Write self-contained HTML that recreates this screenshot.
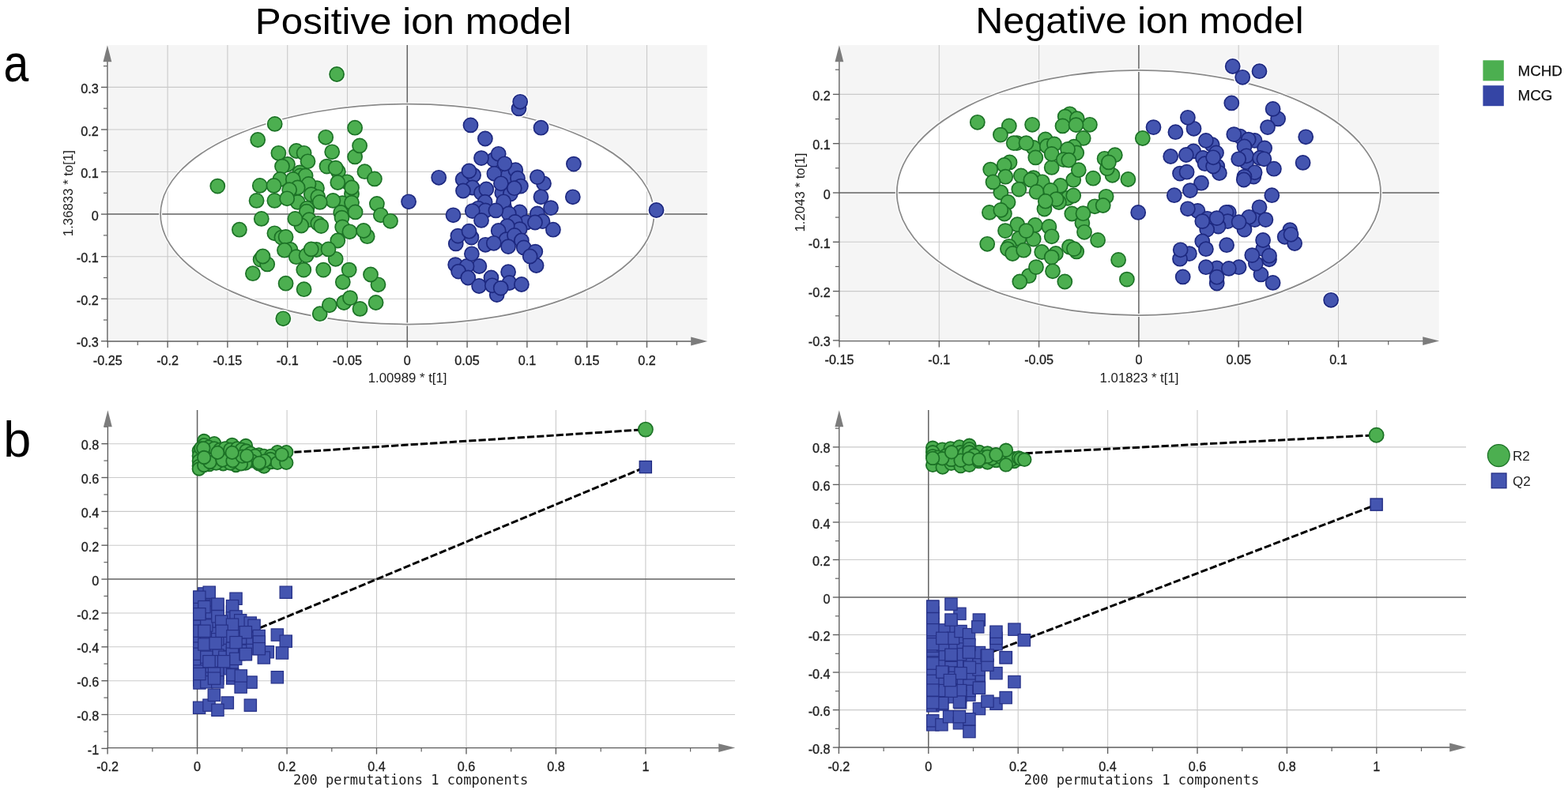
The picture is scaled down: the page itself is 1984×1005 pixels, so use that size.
<!DOCTYPE html>
<html lang="en">
<head>
<meta charset="utf-8">
<title>OPLS-DA score plots and permutation tests</title>
<style>
html,body{margin:0;padding:0;background:#fff;}
body{width:1984px;height:1005px;overflow:hidden;}
svg{display:block;}
</style>
</head>
<body>
<svg width="1984" height="1005" viewBox="0 0 1984 1005" font-family="'Liberation Sans',Arial,sans-serif">
<rect x="137.2" y="57.0" width="757.6" height="373.5" fill="#f5f5f5"/>
<ellipse cx="515.3" cy="271.1" rx="312.2" ry="139.4" fill="#ffffff"/>
<g stroke="#cacaca" stroke-width="1.1"><line x1="212.1" y1="57.0" x2="212.1" y2="432.0"/><line x1="287.9" y1="57.0" x2="287.9" y2="432.0"/><line x1="363.7" y1="57.0" x2="363.7" y2="432.0"/><line x1="439.5" y1="57.0" x2="439.5" y2="432.0"/><line x1="591.1" y1="57.0" x2="591.1" y2="432.0"/><line x1="666.9" y1="57.0" x2="666.9" y2="432.0"/><line x1="742.7" y1="57.0" x2="742.7" y2="432.0"/><line x1="818.5" y1="57.0" x2="818.5" y2="432.0"/><line x1="135.9" y1="378.2" x2="895" y2="378.2"/><line x1="135.9" y1="324.7" x2="895" y2="324.7"/><line x1="135.9" y1="217.5" x2="895" y2="217.5"/><line x1="135.9" y1="164.0" x2="895" y2="164.0"/><line x1="135.9" y1="110.4" x2="895" y2="110.4"/></g>
<g stroke="#626262" stroke-width="1.5"><line x1="515.3" y1="57.0" x2="515.3" y2="432.0"/><line x1="135.9" y1="271.1" x2="895" y2="271.1"/></g>
<ellipse cx="515.3" cy="271.1" rx="312.2" ry="139.4" fill="none" stroke="#ffffff" stroke-width="4"/>
<ellipse cx="515.3" cy="271.1" rx="312.2" ry="139.4" fill="none" stroke="#8a8a8a" stroke-width="1.75"/>
<rect x="1063.2" y="57.0" width="757.6" height="373.1" fill="#f5f5f5"/>
<ellipse cx="1440.9" cy="244.0" rx="306.1" ry="155.0" fill="#ffffff"/>
<g stroke="#cacaca" stroke-width="1.1"><line x1="1188.3" y1="57.0" x2="1188.3" y2="431.6"/><line x1="1314.6" y1="57.0" x2="1314.6" y2="431.6"/><line x1="1567.2" y1="57.0" x2="1567.2" y2="431.6"/><line x1="1693.5" y1="57.0" x2="1693.5" y2="431.6"/><line x1="1061.9" y1="368.6" x2="1821" y2="368.6"/><line x1="1061.9" y1="306.3" x2="1821" y2="306.3"/><line x1="1061.9" y1="181.7" x2="1821" y2="181.7"/><line x1="1061.9" y1="119.4" x2="1821" y2="119.4"/></g>
<g stroke="#626262" stroke-width="1.5"><line x1="1440.9" y1="57.0" x2="1440.9" y2="431.6"/><line x1="1061.9" y1="244.0" x2="1821" y2="244.0"/></g>
<ellipse cx="1440.9" cy="244.0" rx="306.1" ry="155.0" fill="none" stroke="#ffffff" stroke-width="4"/>
<ellipse cx="1440.9" cy="244.0" rx="306.1" ry="155.0" fill="none" stroke="#8a8a8a" stroke-width="1.75"/>
<g stroke="#cacaca" stroke-width="1.1"><line x1="363.1" y1="519" x2="363.1" y2="946.6"/><line x1="476.5" y1="519" x2="476.5" y2="946.6"/><line x1="590.0" y1="519" x2="590.0" y2="946.6"/><line x1="703.4" y1="519" x2="703.4" y2="946.6"/><line x1="816.9" y1="519" x2="816.9" y2="946.6"/><line x1="136.4" y1="904.5" x2="930" y2="904.5"/><line x1="136.4" y1="861.7" x2="930" y2="861.7"/><line x1="136.4" y1="818.8" x2="930" y2="818.8"/><line x1="136.4" y1="776.0" x2="930" y2="776.0"/><line x1="136.4" y1="690.2" x2="930" y2="690.2"/><line x1="136.4" y1="647.4" x2="930" y2="647.4"/><line x1="136.4" y1="604.5" x2="930" y2="604.5"/><line x1="136.4" y1="561.7" x2="930" y2="561.7"/></g>
<g stroke="#626262" stroke-width="1.5"><line x1="249.6" y1="519" x2="249.6" y2="946.6"/><line x1="136.4" y1="733.1" x2="930" y2="733.1"/></g>
<g stroke="#cacaca" stroke-width="1.1"><line x1="1288.2" y1="519" x2="1288.2" y2="946.0"/><line x1="1401.6" y1="519" x2="1401.6" y2="946.0"/><line x1="1515.0" y1="519" x2="1515.0" y2="946.0"/><line x1="1628.4" y1="519" x2="1628.4" y2="946.0"/><line x1="1741.8" y1="519" x2="1741.8" y2="946.0"/><line x1="1061.8" y1="898.6" x2="1855" y2="898.6"/><line x1="1061.8" y1="851.0" x2="1855" y2="851.0"/><line x1="1061.8" y1="803.5" x2="1855" y2="803.5"/><line x1="1061.8" y1="708.5" x2="1855" y2="708.5"/><line x1="1061.8" y1="661.0" x2="1855" y2="661.0"/><line x1="1061.8" y1="613.4" x2="1855" y2="613.4"/><line x1="1061.8" y1="565.9" x2="1855" y2="565.9"/></g>
<g stroke="#626262" stroke-width="1.5"><line x1="1174.8" y1="519" x2="1174.8" y2="946.0"/><line x1="1061.8" y1="756.0" x2="1855" y2="756.0"/></g>
<g stroke="#000" stroke-width="3.0" stroke-dasharray="9.2 3.1" fill="none"><path d="M249.6,580.3 L817,543.6"/><path d="M249.6,827.9 L817,591.1"/><path d="M1174.8,580 L1742,550.7"/><path d="M1174.8,856 L1742,638.6"/></g>
<g fill="#ffffff"><circle cx="426.1" cy="94.0" r="11.3"/><circle cx="347.7" cy="156.9" r="11.3"/><circle cx="326.2" cy="177.0" r="11.3"/><circle cx="404.7" cy="397.2" r="11.3"/><circle cx="358.3" cy="403.3" r="11.3"/><circle cx="656.5" cy="137.4" r="11.3"/><circle cx="658.2" cy="128.8" r="11.3"/><circle cx="684.5" cy="161.7" r="11.3"/><circle cx="830.5" cy="266.0" r="11.3"/></g>
<g fill="#ffffff"><circle cx="1559.7" cy="84.0" r="11.3"/><circle cx="1572.2" cy="97.8" r="11.3"/><circle cx="1593.5" cy="90.2" r="11.3"/><circle cx="1610.6" cy="357.9" r="11.3"/><circle cx="1684.1" cy="379.8" r="11.3"/></g>
<g fill="#4caf50" stroke="#1c7226" stroke-width="1.7"><circle cx="426.1" cy="94.0" r="9.05"/><circle cx="347.7" cy="156.9" r="9.05"/><circle cx="326.2" cy="177.0" r="9.05"/><circle cx="449.1" cy="161.7" r="9.05"/><circle cx="412.2" cy="173.8" r="9.05"/><circle cx="449.1" cy="198.4" r="9.05"/><circle cx="455.1" cy="184.4" r="9.05"/><circle cx="420.2" cy="192.3" r="9.05"/><circle cx="352.4" cy="193.8" r="9.05"/><circle cx="375.0" cy="191.0" r="9.05"/><circle cx="384.6" cy="193.8" r="9.05"/><circle cx="389.5" cy="204.3" r="9.05"/><circle cx="364.0" cy="208.0" r="9.05"/><circle cx="357.0" cy="210.6" r="9.05"/><circle cx="413.5" cy="210.6" r="9.05"/><circle cx="427.9" cy="217.2" r="9.05"/><circle cx="424.7" cy="212.6" r="9.05"/><circle cx="461.4" cy="217.2" r="9.05"/><circle cx="473.9" cy="226.4" r="9.05"/><circle cx="379.3" cy="218.5" r="9.05"/><circle cx="380.0" cy="222.4" r="9.05"/><circle cx="386.6" cy="222.4" r="9.05"/><circle cx="354.4" cy="227.0" r="9.05"/><circle cx="370.8" cy="227.0" r="9.05"/><circle cx="439.1" cy="230.3" r="9.05"/><circle cx="427.3" cy="231.0" r="9.05"/><circle cx="445.0" cy="245.4" r="9.05"/><circle cx="445.0" cy="237.5" r="9.05"/><circle cx="328.8" cy="234.9" r="9.05"/><circle cx="346.5" cy="234.9" r="9.05"/><circle cx="401.0" cy="238.2" r="9.05"/><circle cx="390.5" cy="232.9" r="9.05"/><circle cx="376.7" cy="237.5" r="9.05"/><circle cx="366.2" cy="240.2" r="9.05"/><circle cx="275.3" cy="235.6" r="9.05"/><circle cx="393.8" cy="246.1" r="9.05"/><circle cx="402.3" cy="249.3" r="9.05"/><circle cx="433.2" cy="257.2" r="9.05"/><circle cx="421.4" cy="253.9" r="9.05"/><circle cx="404.7" cy="255.9" r="9.05"/><circle cx="445.0" cy="256.6" r="9.05"/><circle cx="324.6" cy="253.9" r="9.05"/><circle cx="347.4" cy="253.9" r="9.05"/><circle cx="376.7" cy="255.9" r="9.05"/><circle cx="363.2" cy="251.3" r="9.05"/><circle cx="388.5" cy="263.8" r="9.05"/><circle cx="387.9" cy="267.7" r="9.05"/><circle cx="449.6" cy="268.4" r="9.05"/><circle cx="476.9" cy="257.9" r="9.05"/><circle cx="481.8" cy="272.3" r="9.05"/><circle cx="494.0" cy="279.8" r="9.05"/><circle cx="431.2" cy="269.0" r="9.05"/><circle cx="432.5" cy="275.6" r="9.05"/><circle cx="330.8" cy="276.9" r="9.05"/><circle cx="391.2" cy="278.2" r="9.05"/><circle cx="381.3" cy="285.5" r="9.05"/><circle cx="373.4" cy="276.9" r="9.05"/><circle cx="402.3" cy="282.8" r="9.05"/><circle cx="406.3" cy="286.1" r="9.05"/><circle cx="433.2" cy="287.4" r="9.05"/><circle cx="442.4" cy="293.3" r="9.05"/><circle cx="464.7" cy="299.2" r="9.05"/><circle cx="460.1" cy="292.0" r="9.05"/><circle cx="302.9" cy="290.7" r="9.05"/><circle cx="347.4" cy="295.3" r="9.05"/><circle cx="356.4" cy="300.6" r="9.05"/><circle cx="361.6" cy="299.9" r="9.05"/><circle cx="427.3" cy="304.5" r="9.05"/><circle cx="367.5" cy="316.0" r="9.05"/><circle cx="360.0" cy="316.7" r="9.05"/><circle cx="374.8" cy="325.2" r="9.05"/><circle cx="387.6" cy="323.2" r="9.05"/><circle cx="400.4" cy="316.0" r="9.05"/><circle cx="393.8" cy="315.4" r="9.05"/><circle cx="424.7" cy="327.8" r="9.05"/><circle cx="415.5" cy="315.4" r="9.05"/><circle cx="329.6" cy="328.6" r="9.05"/><circle cx="338.2" cy="334.4" r="9.05"/><circle cx="332.5" cy="324.5" r="9.05"/><circle cx="319.9" cy="346.2" r="9.05"/><circle cx="384.3" cy="341.6" r="9.05"/><circle cx="409.2" cy="341.6" r="9.05"/><circle cx="433.8" cy="357.0" r="9.05"/><circle cx="441.7" cy="341.6" r="9.05"/><circle cx="478.5" cy="360.3" r="9.05"/><circle cx="469.0" cy="347.5" r="9.05"/><circle cx="361.6" cy="358.7" r="9.05"/><circle cx="384.6" cy="366.2" r="9.05"/><circle cx="404.7" cy="397.2" r="9.05"/><circle cx="416.8" cy="386.3" r="9.05"/><circle cx="435.2" cy="383.0" r="9.05"/><circle cx="443.0" cy="377.1" r="9.05"/><circle cx="455.5" cy="390.9" r="9.05"/><circle cx="475.6" cy="383.0" r="9.05"/><circle cx="358.3" cy="403.3" r="9.05"/></g>
<g fill="#4455b0" stroke="#1e2980" stroke-width="1.7"><circle cx="656.5" cy="137.4" r="9.05"/><circle cx="658.2" cy="128.8" r="9.05"/><circle cx="595.5" cy="158.4" r="9.05"/><circle cx="684.5" cy="161.7" r="9.05"/><circle cx="613.9" cy="175.5" r="9.05"/><circle cx="624.8" cy="202.1" r="9.05"/><circle cx="609.0" cy="200.1" r="9.05"/><circle cx="630.7" cy="194.8" r="9.05"/><circle cx="641.8" cy="223.1" r="9.05"/><circle cx="652.3" cy="215.2" r="9.05"/><circle cx="638.5" cy="207.3" r="9.05"/><circle cx="725.9" cy="207.6" r="9.05"/><circle cx="585.6" cy="227.0" r="9.05"/><circle cx="599.1" cy="221.8" r="9.05"/><circle cx="593.5" cy="216.5" r="9.05"/><circle cx="555.2" cy="224.8" r="9.05"/><circle cx="625.4" cy="219.8" r="9.05"/><circle cx="655.0" cy="225.7" r="9.05"/><circle cx="688.0" cy="232.3" r="9.05"/><circle cx="679.9" cy="224.1" r="9.05"/><circle cx="658.9" cy="235.6" r="9.05"/><circle cx="635.3" cy="244.1" r="9.05"/><circle cx="645.8" cy="245.4" r="9.05"/><circle cx="633.9" cy="232.3" r="9.05"/><circle cx="650.8" cy="238.2" r="9.05"/><circle cx="597.8" cy="237.5" r="9.05"/><circle cx="586.0" cy="241.5" r="9.05"/><circle cx="609.0" cy="244.1" r="9.05"/><circle cx="615.3" cy="239.5" r="9.05"/><circle cx="684.5" cy="249.3" r="9.05"/><circle cx="724.8" cy="249.3" r="9.05"/><circle cx="517.1" cy="255.3" r="9.05"/><circle cx="637.9" cy="261.2" r="9.05"/><circle cx="637.2" cy="255.3" r="9.05"/><circle cx="613.6" cy="255.7" r="9.05"/><circle cx="697.0" cy="263.1" r="9.05"/><circle cx="605.1" cy="263.8" r="9.05"/><circle cx="614.2" cy="266.4" r="9.05"/><circle cx="597.8" cy="267.1" r="9.05"/><circle cx="657.6" cy="268.4" r="9.05"/><circle cx="643.8" cy="270.4" r="9.05"/><circle cx="627.4" cy="266.4" r="9.05"/><circle cx="679.9" cy="270.4" r="9.05"/><circle cx="573.5" cy="272.3" r="9.05"/><circle cx="609.0" cy="278.9" r="9.05"/><circle cx="666.1" cy="281.5" r="9.05"/><circle cx="686.5" cy="280.2" r="9.05"/><circle cx="677.0" cy="281.5" r="9.05"/><circle cx="651.7" cy="280.9" r="9.05"/><circle cx="657.6" cy="290.1" r="9.05"/><circle cx="641.8" cy="286.1" r="9.05"/><circle cx="699.9" cy="290.7" r="9.05"/><circle cx="630.7" cy="292.0" r="9.05"/><circle cx="576.8" cy="308.4" r="9.05"/><circle cx="596.5" cy="300.6" r="9.05"/><circle cx="579.4" cy="298.6" r="9.05"/><circle cx="593.5" cy="292.7" r="9.05"/><circle cx="640.5" cy="303.2" r="9.05"/><circle cx="651.0" cy="297.9" r="9.05"/><circle cx="659.9" cy="304.5" r="9.05"/><circle cx="614.2" cy="309.8" r="9.05"/><circle cx="624.8" cy="307.8" r="9.05"/><circle cx="643.1" cy="312.1" r="9.05"/><circle cx="662.8" cy="313.4" r="9.05"/><circle cx="677.3" cy="318.6" r="9.05"/><circle cx="678.6" cy="336.0" r="9.05"/><circle cx="670.7" cy="324.5" r="9.05"/><circle cx="576.2" cy="335.1" r="9.05"/><circle cx="606.4" cy="337.0" r="9.05"/><circle cx="590.6" cy="337.0" r="9.05"/><circle cx="596.9" cy="321.3" r="9.05"/><circle cx="580.1" cy="343.6" r="9.05"/><circle cx="592.3" cy="351.5" r="9.05"/><circle cx="643.1" cy="344.2" r="9.05"/><circle cx="621.5" cy="351.5" r="9.05"/><circle cx="628.7" cy="373.1" r="9.05"/><circle cx="606.1" cy="362.0" r="9.05"/><circle cx="622.8" cy="361.3" r="9.05"/><circle cx="644.5" cy="358.0" r="9.05"/><circle cx="659.9" cy="360.0" r="9.05"/><circle cx="633.7" cy="364.6" r="9.05"/><circle cx="830.5" cy="266.0" r="9.05"/></g>
<g fill="#4caf50" stroke="#1c7226" stroke-width="1.7"><circle cx="1236.8" cy="154.8" r="9.05"/><circle cx="1276.8" cy="159.4" r="9.05"/><circle cx="1265.9" cy="170.6" r="9.05"/><circle cx="1306.1" cy="157.8" r="9.05"/><circle cx="1353.6" cy="144.3" r="9.05"/><circle cx="1347.7" cy="147.6" r="9.05"/><circle cx="1362.8" cy="150.2" r="9.05"/><circle cx="1378.9" cy="157.8" r="9.05"/><circle cx="1344.5" cy="159.4" r="9.05"/><circle cx="1361.5" cy="158.1" r="9.05"/><circle cx="1370.7" cy="174.9" r="9.05"/><circle cx="1322.8" cy="176.5" r="9.05"/><circle cx="1286.7" cy="181.1" r="9.05"/><circle cx="1282.7" cy="181.1" r="9.05"/><circle cx="1307.7" cy="187.0" r="9.05"/><circle cx="1298.5" cy="181.1" r="9.05"/><circle cx="1324.8" cy="185.0" r="9.05"/><circle cx="1333.9" cy="182.4" r="9.05"/><circle cx="1358.9" cy="185.7" r="9.05"/><circle cx="1362.2" cy="193.5" r="9.05"/><circle cx="1351.0" cy="188.9" r="9.05"/><circle cx="1330.7" cy="211.9" r="9.05"/><circle cx="1330.7" cy="194.9" r="9.05"/><circle cx="1310.3" cy="199.4" r="9.05"/><circle cx="1345.8" cy="202.1" r="9.05"/><circle cx="1352.3" cy="202.7" r="9.05"/><circle cx="1397.6" cy="200.8" r="9.05"/><circle cx="1410.8" cy="196.2" r="9.05"/><circle cx="1407.5" cy="221.8" r="9.05"/><circle cx="1400.9" cy="213.2" r="9.05"/><circle cx="1402.9" cy="205.4" r="9.05"/><circle cx="1277.5" cy="205.4" r="9.05"/><circle cx="1270.7" cy="209.0" r="9.05"/><circle cx="1253.2" cy="214.6" r="9.05"/><circle cx="1272.2" cy="223.7" r="9.05"/><circle cx="1358.2" cy="227.7" r="9.05"/><circle cx="1364.8" cy="215.2" r="9.05"/><circle cx="1383.2" cy="225.7" r="9.05"/><circle cx="1427.4" cy="227.0" r="9.05"/><circle cx="1291.9" cy="222.4" r="9.05"/><circle cx="1307.7" cy="225.1" r="9.05"/><circle cx="1318.8" cy="230.3" r="9.05"/><circle cx="1304.4" cy="227.7" r="9.05"/><circle cx="1266.3" cy="243.5" r="9.05"/><circle cx="1256.5" cy="230.4" r="9.05"/><circle cx="1289.3" cy="239.6" r="9.05"/><circle cx="1341.8" cy="235.0" r="9.05"/><circle cx="1311.6" cy="242.9" r="9.05"/><circle cx="1329.3" cy="240.9" r="9.05"/><circle cx="1351.0" cy="250.8" r="9.05"/><circle cx="1358.2" cy="247.5" r="9.05"/><circle cx="1399.6" cy="248.8" r="9.05"/><circle cx="1275.5" cy="256.0" r="9.05"/><circle cx="1339.9" cy="256.0" r="9.05"/><circle cx="1336.6" cy="252.1" r="9.05"/><circle cx="1321.5" cy="264.5" r="9.05"/><circle cx="1322.8" cy="254.7" r="9.05"/><circle cx="1385.2" cy="261.3" r="9.05"/><circle cx="1395.7" cy="260.0" r="9.05"/><circle cx="1251.9" cy="268.9" r="9.05"/><circle cx="1270.9" cy="270.5" r="9.05"/><circle cx="1266.3" cy="265.9" r="9.05"/><circle cx="1356.3" cy="270.5" r="9.05"/><circle cx="1369.4" cy="282.3" r="9.05"/><circle cx="1370.5" cy="270.2" r="9.05"/><circle cx="1372.0" cy="293.8" r="9.05"/><circle cx="1287.3" cy="284.2" r="9.05"/><circle cx="1309.7" cy="284.9" r="9.05"/><circle cx="1272.0" cy="292.1" r="9.05"/><circle cx="1289.3" cy="302.0" r="9.05"/><circle cx="1307.7" cy="302.6" r="9.05"/><circle cx="1298.5" cy="292.1" r="9.05"/><circle cx="1327.4" cy="286.9" r="9.05"/><circle cx="1330.7" cy="299.3" r="9.05"/><circle cx="1389.1" cy="303.9" r="9.05"/><circle cx="1249.2" cy="308.8" r="9.05"/><circle cx="1276.8" cy="311.8" r="9.05"/><circle cx="1274.9" cy="315.1" r="9.05"/><circle cx="1281.2" cy="321.0" r="9.05"/><circle cx="1295.2" cy="316.7" r="9.05"/><circle cx="1318.2" cy="319.0" r="9.05"/><circle cx="1335.9" cy="321.0" r="9.05"/><circle cx="1330.7" cy="325.6" r="9.05"/><circle cx="1353.0" cy="312.5" r="9.05"/><circle cx="1362.2" cy="318.4" r="9.05"/><circle cx="1358.9" cy="315.1" r="9.05"/><circle cx="1415.1" cy="328.9" r="9.05"/><circle cx="1301.8" cy="349.2" r="9.05"/><circle cx="1311.0" cy="338.1" r="9.05"/><circle cx="1290.3" cy="356.5" r="9.05"/><circle cx="1332.0" cy="343.3" r="9.05"/><circle cx="1347.3" cy="356.5" r="9.05"/><circle cx="1425.9" cy="353.6" r="9.05"/></g>
<g fill="#4455b0" stroke="#1e2980" stroke-width="1.7"><circle cx="1559.7" cy="84.0" r="9.05"/><circle cx="1572.2" cy="97.8" r="9.05"/><circle cx="1593.5" cy="90.2" r="9.05"/><circle cx="1558.3" cy="130.4" r="9.05"/><circle cx="1617.1" cy="150.4" r="9.05"/><circle cx="1610.6" cy="137.9" r="9.05"/><circle cx="1604.0" cy="161.1" r="9.05"/><circle cx="1510.5" cy="162.8" r="9.05"/><circle cx="1502.9" cy="148.8" r="9.05"/><circle cx="1459.5" cy="161.1" r="9.05"/><circle cx="1487.4" cy="167.2" r="9.05"/><circle cx="1652.2" cy="173.3" r="9.05"/><circle cx="1569.2" cy="172.7" r="9.05"/><circle cx="1561.3" cy="170.1" r="9.05"/><circle cx="1587.6" cy="177.9" r="9.05"/><circle cx="1579.7" cy="176.6" r="9.05"/><circle cx="1533.7" cy="183.2" r="9.05"/><circle cx="1525.9" cy="177.9" r="9.05"/><circle cx="1574.5" cy="185.5" r="9.05"/><circle cx="1600.1" cy="187.5" r="9.05"/><circle cx="1510.1" cy="191.4" r="9.05"/><circle cx="1500.9" cy="196.0" r="9.05"/><circle cx="1481.2" cy="198.0" r="9.05"/><circle cx="1539.0" cy="193.4" r="9.05"/><circle cx="1521.9" cy="200.0" r="9.05"/><circle cx="1524.6" cy="207.2" r="9.05"/><circle cx="1540.3" cy="210.5" r="9.05"/><circle cx="1542.9" cy="219.0" r="9.05"/><circle cx="1535.1" cy="210.5" r="9.05"/><circle cx="1535.1" cy="199.3" r="9.05"/><circle cx="1577.1" cy="205.2" r="9.05"/><circle cx="1577.1" cy="197.3" r="9.05"/><circle cx="1567.2" cy="201.3" r="9.05"/><circle cx="1594.1" cy="200.0" r="9.05"/><circle cx="1599.4" cy="201.3" r="9.05"/><circle cx="1611.9" cy="213.7" r="9.05"/><circle cx="1648.6" cy="205.9" r="9.05"/><circle cx="1493.0" cy="219.6" r="9.05"/><circle cx="1501.6" cy="217.7" r="9.05"/><circle cx="1586.3" cy="223.6" r="9.05"/><circle cx="1587.6" cy="218.3" r="9.05"/><circle cx="1574.5" cy="223.6" r="9.05"/><circle cx="1573.8" cy="227.5" r="9.05"/><circle cx="1520.0" cy="231.7" r="9.05"/><circle cx="1505.9" cy="241.1" r="9.05"/><circle cx="1485.8" cy="247.2" r="9.05"/><circle cx="1609.3" cy="247.2" r="9.05"/><circle cx="1440.2" cy="268.9" r="9.05"/><circle cx="1593.5" cy="262.3" r="9.05"/><circle cx="1515.4" cy="266.9" r="9.05"/><circle cx="1502.9" cy="264.3" r="9.05"/><circle cx="1554.8" cy="268.9" r="9.05"/><circle cx="1551.5" cy="268.9" r="9.05"/><circle cx="1527.8" cy="276.8" r="9.05"/><circle cx="1587.6" cy="278.1" r="9.05"/><circle cx="1580.4" cy="274.8" r="9.05"/><circle cx="1601.4" cy="278.1" r="9.05"/><circle cx="1553.4" cy="280.1" r="9.05"/><circle cx="1541.6" cy="286.6" r="9.05"/><circle cx="1527.2" cy="290.6" r="9.05"/><circle cx="1521.3" cy="280.1" r="9.05"/><circle cx="1539.7" cy="276.1" r="9.05"/><circle cx="1574.5" cy="290.6" r="9.05"/><circle cx="1567.6" cy="281.1" r="9.05"/><circle cx="1632.2" cy="291.2" r="9.05"/><circle cx="1625.7" cy="299.8" r="9.05"/><circle cx="1638.1" cy="308.0" r="9.05"/><circle cx="1633.5" cy="296.8" r="9.05"/><circle cx="1521.3" cy="305.4" r="9.05"/><circle cx="1525.9" cy="315.2" r="9.05"/><circle cx="1552.1" cy="310.2" r="9.05"/><circle cx="1504.9" cy="321.1" r="9.05"/><circle cx="1493.0" cy="327.7" r="9.05"/><circle cx="1493.7" cy="316.3" r="9.05"/><circle cx="1598.1" cy="315.2" r="9.05"/><circle cx="1598.1" cy="304.0" r="9.05"/><circle cx="1606.0" cy="328.3" r="9.05"/><circle cx="1595.5" cy="347.4" r="9.05"/><circle cx="1588.9" cy="333.6" r="9.05"/><circle cx="1584.3" cy="323.1" r="9.05"/><circle cx="1606.0" cy="323.7" r="9.05"/><circle cx="1610.6" cy="357.9" r="9.05"/><circle cx="1539.7" cy="339.5" r="9.05"/><circle cx="1567.6" cy="338.2" r="9.05"/><circle cx="1525.9" cy="338.2" r="9.05"/><circle cx="1554.8" cy="339.9" r="9.05"/><circle cx="1539.7" cy="358.5" r="9.05"/><circle cx="1539.7" cy="350.7" r="9.05"/><circle cx="1496.7" cy="350.4" r="9.05"/><circle cx="1684.1" cy="379.8" r="9.05"/></g>
<g fill="#4caf50" stroke="#1c7226" stroke-width="1.7"><circle cx="1445.8" cy="175.0" r="9.05"/></g>
<g fill="#4455b0" stroke="#263188" stroke-width="1.2"><rect x="286.4" y="797.6" width="15.3" height="15.3"/><rect x="294.8" y="800.0" width="15.3" height="15.3"/><rect x="253.7" y="775.8" width="15.3" height="15.3"/><rect x="267.6" y="787.1" width="15.3" height="15.3"/><rect x="311.8" y="807.1" width="15.3" height="15.3"/><rect x="253.7" y="760.5" width="15.3" height="15.3"/><rect x="303.2" y="808.0" width="15.3" height="15.3"/><rect x="294.8" y="820.4" width="15.3" height="15.3"/><rect x="276.7" y="816.1" width="15.3" height="15.3"/><rect x="244.8" y="834.6" width="15.3" height="15.3"/><rect x="244.8" y="798.4" width="15.3" height="15.3"/><rect x="253.7" y="838.6" width="15.3" height="15.3"/><rect x="276.7" y="779.0" width="15.3" height="15.3"/><rect x="267.6" y="814.5" width="15.3" height="15.3"/><rect x="253.7" y="845.0" width="15.3" height="15.3"/><rect x="267.6" y="806.6" width="15.3" height="15.3"/><rect x="244.8" y="805.6" width="15.3" height="15.3"/><rect x="276.7" y="808.0" width="15.3" height="15.3"/><rect x="253.7" y="807.9" width="15.3" height="15.3"/><rect x="311.8" y="791.9" width="15.3" height="15.3"/><rect x="253.7" y="767.6" width="15.3" height="15.3"/><rect x="244.8" y="845.4" width="15.3" height="15.3"/><rect x="244.8" y="812.9" width="15.3" height="15.3"/><rect x="267.6" y="772.6" width="15.3" height="15.3"/><rect x="267.6" y="779.8" width="15.3" height="15.3"/><rect x="286.4" y="805.5" width="15.3" height="15.3"/><rect x="253.7" y="800.0" width="15.3" height="15.3"/><rect x="276.7" y="791.1" width="15.3" height="15.3"/><rect x="267.6" y="821.8" width="15.3" height="15.3"/><rect x="303.2" y="792.6" width="15.3" height="15.3"/><rect x="286.4" y="826.4" width="15.3" height="15.3"/><rect x="244.8" y="853.1" width="15.3" height="15.3"/><rect x="286.4" y="783.0" width="15.3" height="15.3"/><rect x="286.4" y="766.9" width="15.3" height="15.3"/><rect x="253.7" y="791.1" width="15.3" height="15.3"/><rect x="267.6" y="765.2" width="15.3" height="15.3"/><rect x="244.8" y="762.9" width="15.3" height="15.3"/><rect x="253.7" y="751.6" width="15.3" height="15.3"/><rect x="294.8" y="814.5" width="15.3" height="15.3"/><rect x="286.4" y="790.2" width="15.3" height="15.3"/><rect x="244.8" y="776.6" width="15.3" height="15.3"/><rect x="244.8" y="783.9" width="15.3" height="15.3"/><rect x="267.6" y="794.2" width="15.3" height="15.3"/><rect x="244.8" y="755.6" width="15.3" height="15.3"/><rect x="276.7" y="829.6" width="15.3" height="15.3"/><rect x="244.8" y="827.4" width="15.3" height="15.3"/><rect x="276.7" y="838.6" width="15.3" height="15.3"/><rect x="267.6" y="837.1" width="15.3" height="15.3"/><rect x="276.7" y="824.1" width="15.3" height="15.3"/><rect x="267.6" y="851.0" width="15.3" height="15.3"/><rect x="294.8" y="807.1" width="15.3" height="15.3"/><rect x="253.7" y="829.6" width="15.3" height="15.3"/><rect x="267.6" y="829.6" width="15.3" height="15.3"/><rect x="244.8" y="769.6" width="15.3" height="15.3"/><rect x="267.6" y="844.2" width="15.3" height="15.3"/><rect x="276.7" y="800.0" width="15.3" height="15.3"/><rect x="286.4" y="812.9" width="15.3" height="15.3"/><rect x="286.4" y="774.1" width="15.3" height="15.3"/><rect x="267.6" y="801.6" width="15.3" height="15.3"/><rect x="244.8" y="791.1" width="15.3" height="15.3"/><rect x="244.8" y="820.1" width="15.3" height="15.3"/><rect x="253.7" y="783.9" width="15.3" height="15.3"/><rect x="253.7" y="851.0" width="15.3" height="15.3"/><rect x="244.8" y="841.9" width="15.3" height="15.3"/><rect x="303.2" y="800.0" width="15.3" height="15.3"/><rect x="294.8" y="792.6" width="15.3" height="15.3"/><rect x="303.2" y="816.1" width="15.3" height="15.3"/><rect x="253.7" y="816.1" width="15.3" height="15.3"/><rect x="253.7" y="824.1" width="15.3" height="15.3"/><rect x="303.2" y="785.5" width="15.3" height="15.3"/><rect x="311.8" y="813.5" width="15.3" height="15.3"/><rect x="294.8" y="785.5" width="15.3" height="15.3"/><rect x="311.8" y="800.0" width="15.3" height="15.3"/><rect x="286.4" y="820.1" width="15.3" height="15.3"/><rect x="244.8" y="748.1" width="15.3" height="15.3"/><rect x="250.7" y="743.8" width="15.3" height="15.3"/><rect x="257.1" y="742.1" width="15.3" height="15.3"/><rect x="267.6" y="757.9" width="15.3" height="15.3"/><rect x="290.9" y="750.1" width="15.3" height="15.3"/><rect x="286.4" y="759.5" width="15.3" height="15.3"/><rect x="290.9" y="772.8" width="15.3" height="15.3"/><rect x="296.6" y="777.6" width="15.3" height="15.3"/><rect x="309.1" y="780.9" width="15.3" height="15.3"/><rect x="313.9" y="784.1" width="15.3" height="15.3"/><rect x="320.0" y="797.4" width="15.3" height="15.3"/><rect x="320.2" y="804.8" width="15.3" height="15.3"/><rect x="331.1" y="817.6" width="15.3" height="15.3"/><rect x="326.2" y="824.8" width="15.3" height="15.3"/><rect x="320.2" y="813.5" width="15.3" height="15.3"/><rect x="286.4" y="830.5" width="15.3" height="15.3"/><rect x="290.6" y="826.2" width="15.3" height="15.3"/><rect x="303.2" y="820.4" width="15.3" height="15.3"/><rect x="244.8" y="856.8" width="15.3" height="15.3"/><rect x="253.7" y="855.6" width="15.3" height="15.3"/><rect x="267.6" y="855.6" width="15.3" height="15.3"/><rect x="286.6" y="850.8" width="15.3" height="15.3"/><rect x="286.6" y="846.6" width="15.3" height="15.3"/><rect x="309.9" y="855.9" width="15.3" height="15.3"/><rect x="297.0" y="861.9" width="15.3" height="15.3"/><rect x="297.2" y="847.8" width="15.3" height="15.3"/><rect x="343.2" y="795.9" width="15.3" height="15.3"/><rect x="354.1" y="804.0" width="15.3" height="15.3"/><rect x="349.4" y="818.8" width="15.3" height="15.3"/><rect x="354.1" y="742.1" width="15.3" height="15.3"/><rect x="343.2" y="849.6" width="15.3" height="15.3"/><rect x="244.7" y="748.1" width="15.3" height="15.3"/><rect x="250.8" y="760.5" width="15.3" height="15.3"/><rect x="244.8" y="769.6" width="15.3" height="15.3"/><rect x="267.8" y="757.1" width="15.3" height="15.3"/><rect x="267.8" y="772.6" width="15.3" height="15.3"/><rect x="272.6" y="779.0" width="15.3" height="15.3"/><rect x="286.4" y="783.0" width="15.3" height="15.3"/><rect x="250.8" y="791.1" width="15.3" height="15.3"/><rect x="273.0" y="791.1" width="15.3" height="15.3"/><rect x="303.2" y="792.6" width="15.3" height="15.3"/><rect x="286.8" y="797.6" width="15.3" height="15.3"/><rect x="290.9" y="805.5" width="15.3" height="15.3"/><rect x="250.8" y="807.9" width="15.3" height="15.3"/><rect x="265.0" y="806.6" width="15.3" height="15.3"/><rect x="256.9" y="829.6" width="15.3" height="15.3"/><rect x="275.5" y="829.6" width="15.3" height="15.3"/><rect x="303.2" y="820.4" width="15.3" height="15.3"/><rect x="244.8" y="845.4" width="15.3" height="15.3"/><rect x="263.4" y="845.0" width="15.3" height="15.3"/><rect x="263.4" y="851.0" width="15.3" height="15.3"/><rect x="244.5" y="888.1" width="15.3" height="15.3"/><rect x="256.9" y="885.0" width="15.3" height="15.3"/><rect x="280.2" y="881.9" width="15.3" height="15.3"/><rect x="263.2" y="872.1" width="15.3" height="15.3"/><rect x="267.8" y="891.1" width="15.3" height="15.3"/><rect x="309.2" y="885.0" width="15.3" height="15.3"/></g>
<g fill="#4caf50" stroke="#1c7226" stroke-width="1.8"><circle cx="251.8" cy="570.5" r="8.25"/><circle cx="251.8" cy="576.9" r="8.25"/><circle cx="251.8" cy="583.4" r="8.25"/><circle cx="251.8" cy="589.8" r="8.25"/><circle cx="251.8" cy="593.5" r="8.25"/><circle cx="258.2" cy="558.0" r="8.25"/><circle cx="271.1" cy="561.2" r="8.25"/><circle cx="293.7" cy="562.8" r="8.25"/><circle cx="311.0" cy="564.0" r="8.25"/><circle cx="327.6" cy="575.3" r="8.25"/><circle cx="334.0" cy="576.9" r="8.25"/><circle cx="351.0" cy="572.1" r="8.25"/><circle cx="362.3" cy="572.1" r="8.25"/><circle cx="264.7" cy="588.2" r="8.25"/><circle cx="282.4" cy="587.4" r="8.25"/><circle cx="298.5" cy="589.0" r="8.25"/><circle cx="334.0" cy="590.6" r="8.25"/><circle cx="342.9" cy="576.9" r="8.25"/><circle cx="342.9" cy="585.0" r="8.25"/><circle cx="342.1" cy="581.0" r="8.25"/><circle cx="351.0" cy="585.8" r="8.25"/><circle cx="362.3" cy="585.8" r="8.25"/><circle cx="258.2" cy="563.2" r="8.25"/><circle cx="254.2" cy="567.3" r="8.25"/><circle cx="263.9" cy="565.6" r="8.25"/><circle cx="271.1" cy="567.3" r="8.25"/><circle cx="278.4" cy="568.9" r="8.25"/><circle cx="284.8" cy="567.3" r="8.25"/><circle cx="291.3" cy="568.9" r="8.25"/><circle cx="300.2" cy="567.3" r="8.25"/><circle cx="305.8" cy="568.9" r="8.25"/><circle cx="311.5" cy="570.5" r="8.25"/><circle cx="317.1" cy="573.7" r="8.25"/><circle cx="322.7" cy="576.9" r="8.25"/><circle cx="318.7" cy="583.4" r="8.25"/><circle cx="310.6" cy="586.6" r="8.25"/><circle cx="305.0" cy="587.4" r="8.25"/><circle cx="291.3" cy="586.6" r="8.25"/><circle cx="273.5" cy="586.6" r="8.25"/><circle cx="258.2" cy="589.0" r="8.25"/><circle cx="327.6" cy="587.4" r="8.25"/><circle cx="257.4" cy="567.3" r="8.25"/><circle cx="265.5" cy="585.0" r="8.25"/><circle cx="281.6" cy="582.6" r="8.25"/><circle cx="294.5" cy="583.4" r="8.25"/><circle cx="306.6" cy="577.7" r="8.25"/><circle cx="312.3" cy="576.9" r="8.25"/><circle cx="334.8" cy="583.4" r="8.25"/><circle cx="258.2" cy="579.0" r="8.25"/><circle cx="275.2" cy="572.9" r="8.25"/><circle cx="293.7" cy="572.9" r="8.25"/><circle cx="328.0" cy="585.8" r="8.25"/><circle cx="356.6" cy="575.3" r="8.25"/></g>
<g fill="#4455b0" stroke="#263188" stroke-width="1.2"><rect x="1172.6" y="832.6" width="15.3" height="15.3"/><rect x="1195.8" y="793.0" width="15.3" height="15.3"/><rect x="1172.6" y="767.9" width="15.3" height="15.3"/><rect x="1207.5" y="851.9" width="15.3" height="15.3"/><rect x="1172.6" y="846.9" width="15.3" height="15.3"/><rect x="1195.8" y="785.8" width="15.3" height="15.3"/><rect x="1185.4" y="842.1" width="15.3" height="15.3"/><rect x="1185.4" y="828.5" width="15.3" height="15.3"/><rect x="1230.9" y="854.2" width="15.3" height="15.3"/><rect x="1218.8" y="837.1" width="15.3" height="15.3"/><rect x="1207.5" y="805.9" width="15.3" height="15.3"/><rect x="1172.6" y="873.5" width="15.3" height="15.3"/><rect x="1218.8" y="871.9" width="15.3" height="15.3"/><rect x="1172.6" y="760.1" width="15.3" height="15.3"/><rect x="1195.8" y="867.1" width="15.3" height="15.3"/><rect x="1195.8" y="821.1" width="15.3" height="15.3"/><rect x="1218.8" y="859.1" width="15.3" height="15.3"/><rect x="1172.6" y="839.6" width="15.3" height="15.3"/><rect x="1218.8" y="866.4" width="15.3" height="15.3"/><rect x="1185.4" y="814.8" width="15.3" height="15.3"/><rect x="1230.9" y="847.1" width="15.3" height="15.3"/><rect x="1207.5" y="827.6" width="15.3" height="15.3"/><rect x="1207.5" y="844.5" width="15.3" height="15.3"/><rect x="1185.4" y="821.2" width="15.3" height="15.3"/><rect x="1185.4" y="874.5" width="15.3" height="15.3"/><rect x="1172.6" y="824.6" width="15.3" height="15.3"/><rect x="1195.8" y="808.4" width="15.3" height="15.3"/><rect x="1207.5" y="835.0" width="15.3" height="15.3"/><rect x="1172.6" y="881.8" width="15.3" height="15.3"/><rect x="1207.5" y="859.1" width="15.3" height="15.3"/><rect x="1218.8" y="830.1" width="15.3" height="15.3"/><rect x="1172.6" y="885.6" width="15.3" height="15.3"/><rect x="1172.6" y="815.5" width="15.3" height="15.3"/><rect x="1218.8" y="825.2" width="15.3" height="15.3"/><rect x="1230.9" y="863.0" width="15.3" height="15.3"/><rect x="1195.8" y="858.4" width="15.3" height="15.3"/><rect x="1185.4" y="850.2" width="15.3" height="15.3"/><rect x="1207.5" y="813.1" width="15.3" height="15.3"/><rect x="1207.5" y="820.5" width="15.3" height="15.3"/><rect x="1218.8" y="851.9" width="15.3" height="15.3"/><rect x="1195.8" y="874.5" width="15.3" height="15.3"/><rect x="1172.6" y="858.4" width="15.3" height="15.3"/><rect x="1172.6" y="810.0" width="15.3" height="15.3"/><rect x="1195.8" y="843.0" width="15.3" height="15.3"/><rect x="1218.8" y="844.6" width="15.3" height="15.3"/><rect x="1207.5" y="873.6" width="15.3" height="15.3"/><rect x="1195.8" y="835.8" width="15.3" height="15.3"/><rect x="1230.9" y="825.2" width="15.3" height="15.3"/><rect x="1172.6" y="866.4" width="15.3" height="15.3"/><rect x="1230.9" y="832.6" width="15.3" height="15.3"/><rect x="1185.4" y="858.4" width="15.3" height="15.3"/><rect x="1185.4" y="866.4" width="15.3" height="15.3"/><rect x="1172.6" y="797.5" width="15.3" height="15.3"/><rect x="1172.6" y="775.6" width="15.3" height="15.3"/><rect x="1172.6" y="854.2" width="15.3" height="15.3"/><rect x="1195.8" y="814.8" width="15.3" height="15.3"/><rect x="1172.6" y="782.6" width="15.3" height="15.3"/><rect x="1195.8" y="850.2" width="15.3" height="15.3"/><rect x="1185.4" y="835.8" width="15.3" height="15.3"/><rect x="1230.9" y="839.8" width="15.3" height="15.3"/><rect x="1195.8" y="828.5" width="15.3" height="15.3"/><rect x="1207.5" y="881.6" width="15.3" height="15.3"/><rect x="1172.6" y="789.8" width="15.3" height="15.3"/><rect x="1172.6" y="804.2" width="15.3" height="15.3"/><rect x="1207.5" y="866.4" width="15.3" height="15.3"/><rect x="1185.4" y="808.4" width="15.3" height="15.3"/><rect x="1207.5" y="798.6" width="15.3" height="15.3"/><rect x="1186.6" y="789.8" width="15.3" height="15.3"/><rect x="1206.8" y="769.2" width="15.3" height="15.3"/><rect x="1198.3" y="800.2" width="15.3" height="15.3"/><rect x="1207.9" y="791.4" width="15.3" height="15.3"/><rect x="1218.4" y="795.5" width="15.3" height="15.3"/><rect x="1218.4" y="817.9" width="15.3" height="15.3"/><rect x="1231.2" y="776.9" width="15.3" height="15.3"/><rect x="1231.3" y="818.4" width="15.3" height="15.3"/><rect x="1241.0" y="822.1" width="15.3" height="15.3"/><rect x="1252.8" y="844.5" width="15.3" height="15.3"/><rect x="1241.8" y="834.0" width="15.3" height="15.3"/><rect x="1252.8" y="807.6" width="15.3" height="15.3"/><rect x="1252.8" y="800.2" width="15.3" height="15.3"/><rect x="1184.6" y="883.8" width="15.3" height="15.3"/><rect x="1206.3" y="880.9" width="15.3" height="15.3"/><rect x="1231.3" y="889.4" width="15.3" height="15.3"/><rect x="1252.8" y="883.0" width="15.3" height="15.3"/><rect x="1172.6" y="909.6" width="15.3" height="15.3"/><rect x="1172.6" y="904.6" width="15.3" height="15.3"/><rect x="1183.8" y="909.6" width="15.3" height="15.3"/><rect x="1193.4" y="899.5" width="15.3" height="15.3"/><rect x="1206.3" y="907.6" width="15.3" height="15.3"/><rect x="1218.8" y="902.6" width="15.3" height="15.3"/><rect x="1172.6" y="760.1" width="15.3" height="15.3"/><rect x="1172.6" y="775.6" width="15.3" height="15.3"/><rect x="1172.6" y="789.6" width="15.3" height="15.3"/><rect x="1172.6" y="807.6" width="15.3" height="15.3"/><rect x="1195.8" y="757.0" width="15.3" height="15.3"/><rect x="1195.8" y="776.9" width="15.3" height="15.3"/><rect x="1229.6" y="785.8" width="15.3" height="15.3"/><rect x="1252.8" y="792.1" width="15.3" height="15.3"/><rect x="1184.6" y="800.2" width="15.3" height="15.3"/><rect x="1218.8" y="808.4" width="15.3" height="15.3"/><rect x="1195.8" y="822.1" width="15.3" height="15.3"/><rect x="1275.8" y="789.0" width="15.3" height="15.3"/><rect x="1288.2" y="802.6" width="15.3" height="15.3"/><rect x="1265.2" y="824.5" width="15.3" height="15.3"/><rect x="1195.8" y="821.1" width="15.3" height="15.3"/><rect x="1218.4" y="817.9" width="15.3" height="15.3"/><rect x="1241.8" y="821.9" width="15.3" height="15.3"/><rect x="1219.2" y="837.1" width="15.3" height="15.3"/><rect x="1207.9" y="844.5" width="15.3" height="15.3"/><rect x="1195.8" y="867.1" width="15.3" height="15.3"/><rect x="1231.3" y="863.0" width="15.3" height="15.3"/><rect x="1172.6" y="832.0" width="15.3" height="15.3"/><rect x="1172.6" y="865.9" width="15.3" height="15.3"/><rect x="1184.6" y="842.9" width="15.3" height="15.3"/><rect x="1194.2" y="853.4" width="15.3" height="15.3"/><rect x="1184.6" y="882.4" width="15.3" height="15.3"/><rect x="1172.6" y="881.6" width="15.3" height="15.3"/><rect x="1265.0" y="824.6" width="15.3" height="15.3"/><rect x="1275.8" y="855.4" width="15.3" height="15.3"/><rect x="1265.0" y="875.4" width="15.3" height="15.3"/><rect x="1241.8" y="880.0" width="15.3" height="15.3"/><rect x="1206.3" y="899.5" width="15.3" height="15.3"/><rect x="1218.8" y="918.4" width="15.3" height="15.3"/></g>
<g fill="#4caf50" stroke="#1c7226" stroke-width="1.8"><circle cx="1180.2" cy="566.8" r="8.3"/><circle cx="1192.3" cy="568.6" r="8.3"/><circle cx="1202.7" cy="567.4" r="8.3"/><circle cx="1214.0" cy="565.4" r="8.3"/><circle cx="1226.5" cy="563.8" r="8.3"/><circle cx="1239.0" cy="571.9" r="8.3"/><circle cx="1249.5" cy="573.5" r="8.3"/><circle cx="1260.0" cy="575.1" r="8.3"/><circle cx="1180.2" cy="588.8" r="8.3"/><circle cx="1192.7" cy="591.6" r="8.3"/><circle cx="1203.5" cy="586.8" r="8.3"/><circle cx="1215.6" cy="590.0" r="8.3"/><circle cx="1226.5" cy="588.8" r="8.3"/><circle cx="1238.6" cy="584.0" r="8.3"/><circle cx="1249.5" cy="585.6" r="8.3"/><circle cx="1260.4" cy="583.1" r="8.3"/><circle cx="1283.4" cy="584.0" r="8.3"/><circle cx="1180.2" cy="572.3" r="8.3"/><circle cx="1180.2" cy="577.1" r="8.3"/><circle cx="1186.6" cy="578.7" r="8.3"/><circle cx="1197.1" cy="576.3" r="8.3"/><circle cx="1208.4" cy="576.3" r="8.3"/><circle cx="1214.8" cy="572.3" r="8.3"/><circle cx="1220.5" cy="573.9" r="8.3"/><circle cx="1226.5" cy="568.2" r="8.3"/><circle cx="1226.5" cy="572.3" r="8.3"/><circle cx="1232.6" cy="576.3" r="8.3"/><circle cx="1244.7" cy="578.7" r="8.3"/><circle cx="1255.2" cy="580.3" r="8.3"/><circle cx="1266.5" cy="578.7" r="8.3"/><circle cx="1283.4" cy="580.3" r="8.3"/><circle cx="1279.4" cy="581.9" r="8.3"/><circle cx="1289.0" cy="579.5" r="8.3"/><circle cx="1291.5" cy="580.7" r="8.3"/><circle cx="1203.5" cy="581.9" r="8.3"/><circle cx="1192.3" cy="580.3" r="8.3"/><circle cx="1215.6" cy="582.7" r="8.3"/><circle cx="1180.2" cy="579.9" r="8.3"/><circle cx="1204.0" cy="572.3" r="8.3"/><circle cx="1226.1" cy="580.3" r="8.3"/><circle cx="1249.5" cy="577.9" r="8.3"/><circle cx="1238.6" cy="581.9" r="8.3"/><circle cx="1272.9" cy="569.8" r="8.3"/><circle cx="1260.4" cy="575.5" r="8.3"/><circle cx="1272.9" cy="588.4" r="8.3"/><circle cx="1296.3" cy="581.8" r="8.3"/></g>
<g fill="#4caf50" stroke="#1c7226" stroke-width="1.7"><circle cx="816.9" cy="543.6" r="9.1"/><circle cx="1741.6" cy="550.7" r="9.1"/></g>
<g fill="#4455b0" stroke="#1e2980" stroke-width="1.3"><rect x="809.2" y="583.5" width="15.2" height="15.2"/><rect x="1734" y="631" width="15.2" height="15.2"/></g>
<g stroke="#5c5c5c" stroke-width="1.35"><line x1="135.9" y1="75.0" x2="135.9" y2="432.0"/><line x1="135.1" y1="432.0" x2="877" y2="432.0"/><line x1="136.3" y1="432.0" x2="136.3" y2="440.0"/><line x1="212.1" y1="432.0" x2="212.1" y2="440.0"/><line x1="287.9" y1="432.0" x2="287.9" y2="440.0"/><line x1="363.7" y1="432.0" x2="363.7" y2="440.0"/><line x1="439.5" y1="432.0" x2="439.5" y2="440.0"/><line x1="515.3" y1="432.0" x2="515.3" y2="440.0"/><line x1="591.1" y1="432.0" x2="591.1" y2="440.0"/><line x1="666.9" y1="432.0" x2="666.9" y2="440.0"/><line x1="742.7" y1="432.0" x2="742.7" y2="440.0"/><line x1="818.5" y1="432.0" x2="818.5" y2="440.0"/><line x1="135.9" y1="431.8" x2="127.9" y2="431.8"/><line x1="135.9" y1="378.2" x2="127.9" y2="378.2"/><line x1="135.9" y1="324.7" x2="127.9" y2="324.7"/><line x1="135.9" y1="271.1" x2="127.9" y2="271.1"/><line x1="135.9" y1="217.5" x2="127.9" y2="217.5"/><line x1="135.9" y1="164.0" x2="127.9" y2="164.0"/><line x1="135.9" y1="110.4" x2="127.9" y2="110.4"/></g>
<g stroke="#626262" stroke-width="1.2"><line x1="174.2" y1="432.0" x2="174.2" y2="437.0"/><line x1="250.0" y1="432.0" x2="250.0" y2="437.0"/><line x1="325.8" y1="432.0" x2="325.8" y2="437.0"/><line x1="401.6" y1="432.0" x2="401.6" y2="437.0"/><line x1="477.4" y1="432.0" x2="477.4" y2="437.0"/><line x1="553.2" y1="432.0" x2="553.2" y2="437.0"/><line x1="629.0" y1="432.0" x2="629.0" y2="437.0"/><line x1="704.8" y1="432.0" x2="704.8" y2="437.0"/><line x1="780.6" y1="432.0" x2="780.6" y2="437.0"/><line x1="856.4" y1="432.0" x2="856.4" y2="437.0"/><line x1="135.9" y1="405.0" x2="130.9" y2="405.0"/><line x1="135.9" y1="351.5" x2="130.9" y2="351.5"/><line x1="135.9" y1="297.9" x2="130.9" y2="297.9"/><line x1="135.9" y1="244.3" x2="130.9" y2="244.3"/><line x1="135.9" y1="190.7" x2="130.9" y2="190.7"/><line x1="135.9" y1="137.2" x2="130.9" y2="137.2"/><line x1="135.9" y1="83.6" x2="130.9" y2="83.6"/></g>
<polygon points="135.9,57.3 130.5,78.3 141.3,78.3" fill="#7c7c7c"/>
<polygon points="895.2,432.0 874.2,426.6 874.2,437.4" fill="#7c7c7c"/>
<g font-size="16.2" fill="#1c1c1c" stroke="#1c1c1c" stroke-width="0.3"><text x="136.3" y="461.8" text-anchor="middle">-0.25</text><text x="212.1" y="461.8" text-anchor="middle">-0.2</text><text x="287.9" y="461.8" text-anchor="middle">-0.15</text><text x="363.7" y="461.8" text-anchor="middle">-0.1</text><text x="439.5" y="461.8" text-anchor="middle">-0.05</text><text x="515.3" y="461.8" text-anchor="middle">0</text><text x="591.1" y="461.8" text-anchor="middle">0.05</text><text x="666.9" y="461.8" text-anchor="middle">0.1</text><text x="742.7" y="461.8" text-anchor="middle">0.15</text><text x="818.5" y="461.8" text-anchor="middle">0.2</text><text x="124.7" y="439.3" text-anchor="end">-0.3</text><text x="124.7" y="385.7" text-anchor="end">-0.2</text><text x="124.7" y="332.2" text-anchor="end">-0.1</text><text x="124.7" y="278.6" text-anchor="end">0</text><text x="124.7" y="225.0" text-anchor="end">0.1</text><text x="124.7" y="171.5" text-anchor="end">0.2</text><text x="124.7" y="117.9" text-anchor="end">0.3</text></g>
<text x="515.6" y="483.7" text-anchor="middle" font-size="16.8" fill="#1c1c1c">1.00989 * t[1]</text>
<text transform="translate(91.7,244.6) rotate(-90)" text-anchor="middle" font-size="16.8" fill="#1c1c1c">1.36833 * to[1]</text>
<g stroke="#5c5c5c" stroke-width="1.35"><line x1="1061.9" y1="75.0" x2="1061.9" y2="431.6"/><line x1="1061.1000000000001" y1="431.6" x2="1803" y2="431.6"/><line x1="1062.0" y1="431.6" x2="1062.0" y2="439.6"/><line x1="1188.3" y1="431.6" x2="1188.3" y2="439.6"/><line x1="1314.6" y1="431.6" x2="1314.6" y2="439.6"/><line x1="1440.9" y1="431.6" x2="1440.9" y2="439.6"/><line x1="1567.2" y1="431.6" x2="1567.2" y2="439.6"/><line x1="1693.5" y1="431.6" x2="1693.5" y2="439.6"/><line x1="1061.9" y1="430.9" x2="1053.9" y2="430.9"/><line x1="1061.9" y1="368.6" x2="1053.9" y2="368.6"/><line x1="1061.9" y1="306.3" x2="1053.9" y2="306.3"/><line x1="1061.9" y1="244.0" x2="1053.9" y2="244.0"/><line x1="1061.9" y1="181.7" x2="1053.9" y2="181.7"/><line x1="1061.9" y1="119.4" x2="1053.9" y2="119.4"/></g>
<g stroke="#626262" stroke-width="1.2"><line x1="1125.2" y1="431.6" x2="1125.2" y2="436.6"/><line x1="1251.5" y1="431.6" x2="1251.5" y2="436.6"/><line x1="1377.8" y1="431.6" x2="1377.8" y2="436.6"/><line x1="1504.1" y1="431.6" x2="1504.1" y2="436.6"/><line x1="1630.4" y1="431.6" x2="1630.4" y2="436.6"/><line x1="1756.7" y1="431.6" x2="1756.7" y2="436.6"/><line x1="1061.9" y1="399.8" x2="1056.9" y2="399.8"/><line x1="1061.9" y1="337.4" x2="1056.9" y2="337.4"/><line x1="1061.9" y1="275.1" x2="1056.9" y2="275.1"/><line x1="1061.9" y1="212.8" x2="1056.9" y2="212.8"/><line x1="1061.9" y1="150.6" x2="1056.9" y2="150.6"/><line x1="1061.9" y1="88.2" x2="1056.9" y2="88.2"/></g>
<polygon points="1061.9,57.3 1056.5,78.3 1067.3000000000002,78.3" fill="#7c7c7c"/>
<polygon points="1821.2,431.6 1800.2,426.20000000000005 1800.2,437.0" fill="#7c7c7c"/>
<g font-size="16.2" fill="#1c1c1c" stroke="#1c1c1c" stroke-width="0.3"><text x="1062.0" y="461.4" text-anchor="middle">-0.15</text><text x="1188.3" y="461.4" text-anchor="middle">-0.1</text><text x="1314.6" y="461.4" text-anchor="middle">-0.05</text><text x="1440.9" y="461.4" text-anchor="middle">0</text><text x="1567.2" y="461.4" text-anchor="middle">0.05</text><text x="1693.5" y="461.4" text-anchor="middle">0.1</text><text x="1050.7" y="438.4" text-anchor="end">-0.3</text><text x="1050.7" y="376.1" text-anchor="end">-0.2</text><text x="1050.7" y="313.8" text-anchor="end">-0.1</text><text x="1050.7" y="251.5" text-anchor="end">0</text><text x="1050.7" y="189.2" text-anchor="end">0.1</text><text x="1050.7" y="126.9" text-anchor="end">0.2</text></g>
<text x="1441.5" y="483.7" text-anchor="middle" font-size="16.8" fill="#1c1c1c">1.01823 * t[1]</text>
<text transform="translate(1018.3,243.6) rotate(-90)" text-anchor="middle" font-size="16.8" fill="#1c1c1c">1.2043 * to[1]</text>
<g stroke="#5c5c5c" stroke-width="1.35"><line x1="136.4" y1="537" x2="136.4" y2="946.6"/><line x1="135.6" y1="946.6" x2="912" y2="946.6"/><line x1="136.1" y1="946.6" x2="136.1" y2="954.6"/><line x1="249.6" y1="946.6" x2="249.6" y2="954.6"/><line x1="363.1" y1="946.6" x2="363.1" y2="954.6"/><line x1="476.5" y1="946.6" x2="476.5" y2="954.6"/><line x1="590.0" y1="946.6" x2="590.0" y2="954.6"/><line x1="703.4" y1="946.6" x2="703.4" y2="954.6"/><line x1="816.9" y1="946.6" x2="816.9" y2="954.6"/><line x1="136.4" y1="947.4" x2="128.4" y2="947.4"/><line x1="136.4" y1="904.5" x2="128.4" y2="904.5"/><line x1="136.4" y1="861.7" x2="128.4" y2="861.7"/><line x1="136.4" y1="818.8" x2="128.4" y2="818.8"/><line x1="136.4" y1="776.0" x2="128.4" y2="776.0"/><line x1="136.4" y1="733.1" x2="128.4" y2="733.1"/><line x1="136.4" y1="690.2" x2="128.4" y2="690.2"/><line x1="136.4" y1="647.4" x2="128.4" y2="647.4"/><line x1="136.4" y1="604.5" x2="128.4" y2="604.5"/><line x1="136.4" y1="561.7" x2="128.4" y2="561.7"/></g>
<g stroke="#626262" stroke-width="1.2"><line x1="192.9" y1="946.6" x2="192.9" y2="951.6"/><line x1="306.3" y1="946.6" x2="306.3" y2="951.6"/><line x1="419.8" y1="946.6" x2="419.8" y2="951.6"/><line x1="533.2" y1="946.6" x2="533.2" y2="951.6"/><line x1="646.7" y1="946.6" x2="646.7" y2="951.6"/><line x1="760.2" y1="946.6" x2="760.2" y2="951.6"/><line x1="873.6" y1="946.6" x2="873.6" y2="951.6"/><line x1="136.4" y1="926.0" x2="131.4" y2="926.0"/><line x1="136.4" y1="883.1" x2="131.4" y2="883.1"/><line x1="136.4" y1="840.2" x2="131.4" y2="840.2"/><line x1="136.4" y1="797.4" x2="131.4" y2="797.4"/><line x1="136.4" y1="754.5" x2="131.4" y2="754.5"/><line x1="136.4" y1="711.7" x2="131.4" y2="711.7"/><line x1="136.4" y1="668.8" x2="131.4" y2="668.8"/><line x1="136.4" y1="626.0" x2="131.4" y2="626.0"/><line x1="136.4" y1="583.1" x2="131.4" y2="583.1"/><line x1="136.4" y1="540.2" x2="131.4" y2="540.2"/></g>
<polygon points="136.4,519.3 131.0,540.3 141.8,540.3" fill="#7c7c7c"/>
<polygon points="930.2,946.6 909.2,941.2 909.2,952.0" fill="#7c7c7c"/>
<g font-size="16.2" fill="#1c1c1c" stroke="#1c1c1c" stroke-width="0.3"><text x="136.1" y="976.4" text-anchor="middle">-0.2</text><text x="249.6" y="976.4" text-anchor="middle">0</text><text x="363.1" y="976.4" text-anchor="middle">0.2</text><text x="476.5" y="976.4" text-anchor="middle">0.4</text><text x="590.0" y="976.4" text-anchor="middle">0.6</text><text x="703.4" y="976.4" text-anchor="middle">0.8</text><text x="816.9" y="976.4" text-anchor="middle">1</text><text x="125.2" y="954.9" text-anchor="end">-1</text><text x="125.2" y="912.0" text-anchor="end">-0.8</text><text x="125.2" y="869.2" text-anchor="end">-0.6</text><text x="125.2" y="826.3" text-anchor="end">-0.4</text><text x="125.2" y="783.5" text-anchor="end">-0.2</text><text x="125.2" y="740.6" text-anchor="end">0</text><text x="125.2" y="697.7" text-anchor="end">0.2</text><text x="125.2" y="654.9" text-anchor="end">0.4</text><text x="125.2" y="612.0" text-anchor="end">0.6</text><text x="125.2" y="569.2" text-anchor="end">0.8</text></g>
<text x="519.7" y="992.8" text-anchor="middle" font-size="17.05" fill="#1c1c1c" font-family="'DejaVu Sans Mono','Liberation Mono',monospace">200 permutations 1 components</text>
<g stroke="#5c5c5c" stroke-width="1.35"><line x1="1061.8" y1="537" x2="1061.8" y2="946.0"/><line x1="1061.0" y1="946.0" x2="1837" y2="946.0"/><line x1="1061.4" y1="946.0" x2="1061.4" y2="954.0"/><line x1="1174.8" y1="946.0" x2="1174.8" y2="954.0"/><line x1="1288.2" y1="946.0" x2="1288.2" y2="954.0"/><line x1="1401.6" y1="946.0" x2="1401.6" y2="954.0"/><line x1="1515.0" y1="946.0" x2="1515.0" y2="954.0"/><line x1="1628.4" y1="946.0" x2="1628.4" y2="954.0"/><line x1="1741.8" y1="946.0" x2="1741.8" y2="954.0"/><line x1="1061.8" y1="946.1" x2="1053.8" y2="946.1"/><line x1="1061.8" y1="898.6" x2="1053.8" y2="898.6"/><line x1="1061.8" y1="851.0" x2="1053.8" y2="851.0"/><line x1="1061.8" y1="803.5" x2="1053.8" y2="803.5"/><line x1="1061.8" y1="756.0" x2="1053.8" y2="756.0"/><line x1="1061.8" y1="708.5" x2="1053.8" y2="708.5"/><line x1="1061.8" y1="661.0" x2="1053.8" y2="661.0"/><line x1="1061.8" y1="613.4" x2="1053.8" y2="613.4"/><line x1="1061.8" y1="565.9" x2="1053.8" y2="565.9"/></g>
<g stroke="#626262" stroke-width="1.2"><line x1="1118.1" y1="946.0" x2="1118.1" y2="951.0"/><line x1="1231.5" y1="946.0" x2="1231.5" y2="951.0"/><line x1="1344.9" y1="946.0" x2="1344.9" y2="951.0"/><line x1="1458.3" y1="946.0" x2="1458.3" y2="951.0"/><line x1="1571.7" y1="946.0" x2="1571.7" y2="951.0"/><line x1="1685.1" y1="946.0" x2="1685.1" y2="951.0"/><line x1="1798.5" y1="946.0" x2="1798.5" y2="951.0"/><line x1="1061.8" y1="922.3" x2="1056.8" y2="922.3"/><line x1="1061.8" y1="874.8" x2="1056.8" y2="874.8"/><line x1="1061.8" y1="827.3" x2="1056.8" y2="827.3"/><line x1="1061.8" y1="779.8" x2="1056.8" y2="779.8"/><line x1="1061.8" y1="732.2" x2="1056.8" y2="732.2"/><line x1="1061.8" y1="684.7" x2="1056.8" y2="684.7"/><line x1="1061.8" y1="637.2" x2="1056.8" y2="637.2"/><line x1="1061.8" y1="589.7" x2="1056.8" y2="589.7"/><line x1="1061.8" y1="542.2" x2="1056.8" y2="542.2"/></g>
<polygon points="1061.8,519.3 1056.3999999999999,540.3 1067.2,540.3" fill="#7c7c7c"/>
<polygon points="1855.2,946.0 1834.2,940.6 1834.2,951.4" fill="#7c7c7c"/>
<g font-size="16.2" fill="#1c1c1c" stroke="#1c1c1c" stroke-width="0.3"><text x="1061.4" y="975.8" text-anchor="middle">-0.2</text><text x="1174.8" y="975.8" text-anchor="middle">0</text><text x="1288.2" y="975.8" text-anchor="middle">0.2</text><text x="1401.6" y="975.8" text-anchor="middle">0.4</text><text x="1515.0" y="975.8" text-anchor="middle">0.6</text><text x="1628.4" y="975.8" text-anchor="middle">0.8</text><text x="1741.8" y="975.8" text-anchor="middle">1</text><text x="1050.6" y="953.6" text-anchor="end">-0.8</text><text x="1050.6" y="906.1" text-anchor="end">-0.6</text><text x="1050.6" y="858.5" text-anchor="end">-0.4</text><text x="1050.6" y="811.0" text-anchor="end">-0.2</text><text x="1050.6" y="763.5" text-anchor="end">0</text><text x="1050.6" y="716.0" text-anchor="end">0.2</text><text x="1050.6" y="668.5" text-anchor="end">0.4</text><text x="1050.6" y="620.9" text-anchor="end">0.6</text><text x="1050.6" y="573.4" text-anchor="end">0.8</text></g>
<text x="1444.5" y="992.8" text-anchor="middle" font-size="17.05" fill="#1c1c1c" font-family="'DejaVu Sans Mono','Liberation Mono',monospace">200 permutations 1 components</text>
<rect x="1876.4" y="76.3" width="26.4" height="26" fill="#4caf50"/><rect x="1876.4" y="108.2" width="26.4" height="26" fill="#3545a5"/>
<g font-size="18.8" fill="#111" stroke="#111" stroke-width="0.25"><text x="1920.6" y="95.6">MCHD</text><text x="1920.6" y="127.0">MCG</text></g>
<circle cx="1896.3" cy="576.6" r="13.9" fill="#4caf50" stroke="#1c7226" stroke-width="1.3"/>
<rect x="1887.2" y="599" width="18.8" height="18.8" fill="#4455b0" stroke="#1e2980" stroke-width="1.2"/>
<g font-size="17" fill="#1c1c1c"><text x="1914" y="582.6">R2</text><text x="1914" y="614.6">Q2</text></g>
<g fill="#000"><text transform="translate(322.8,42.7) scale(1.054,1)" font-size="46.8">Positive ion model</text><text transform="translate(1234.3,41.7) scale(1.037,1)" font-size="46.8">Negative ion model</text><text transform="translate(4.4,102.5) scale(0.86,1)" font-size="66.5">a</text><text transform="translate(4.3,578) scale(1.0,1)" font-size="63">b</text></g>
</svg>
</body>
</html>
